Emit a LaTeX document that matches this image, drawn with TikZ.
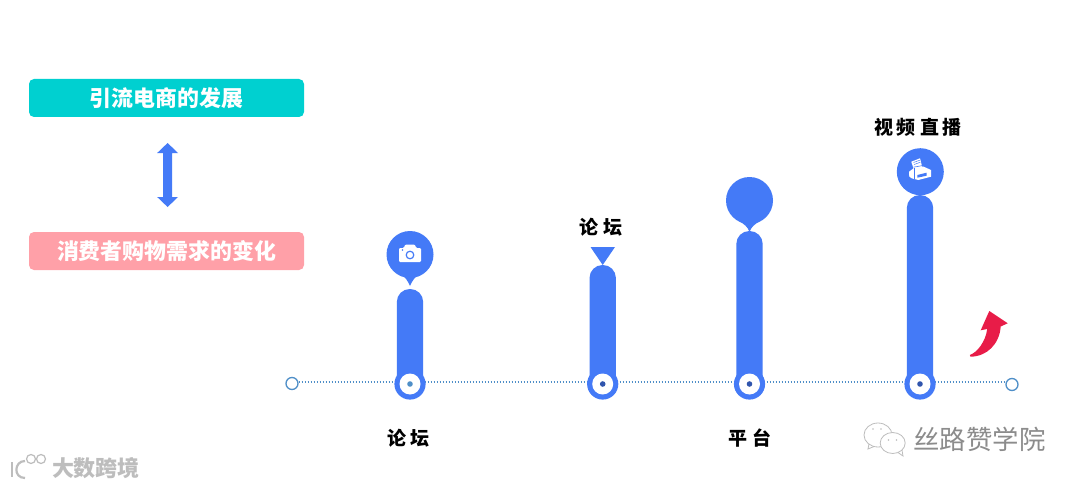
\documentclass[tikz,border=0pt]{standalone}
\usepackage{fontspec}
\usetikzlibrary{calc}
\newfontfamily\cjk{Noto Sans CJK SC}
\definecolor{barblue}{HTML}{447AF7}
\definecolor{linedot}{HTML}{4F8FC8}
\definecolor{teal1}{HTML}{00D0D0}
\definecolor{pink1}{HTML}{FFA0A8}
\definecolor{redarrow}{HTML}{E81C48}
\definecolor{wm}{HTML}{BDBDBD}
\tikzset{
  box/.style={fill=#1,rounded corners=5pt,minimum width=275pt,minimum height=38pt,inner sep=0pt,
    text=white,font=\cjk\bfseries\fontsize{21.9}{26}\selectfont},
  lbl/.style={text=black,inner sep=0pt,font=\cjk\bfseries\fontsize{19}{22}\selectfont},
  endring/.style={circle,draw=linedot,fill=white,line width=1.3pt,minimum size=12pt,inner sep=0pt},
  dotline/.style={draw=linedot,line width=1.2pt,dash pattern=on 1.5pt off 1.5pt},
  wmline/.style={draw=wm,line width=1pt}
}
\newcommand{\stem}[2]{% x, top y
  \fill[barblue,rounded corners=13pt] (#1-13.2,#2) rectangle (#1+13.2,392);
  \fill[barblue] (#1,384) circle (15.6);
  \fill[white] (#1,384) circle (10.5);
}
\begin{document}
\begin{tikzpicture}[x=1pt,y=-1pt]
\useasboundingbox (0,0) rectangle (1080,487);
\fill[white] (0,0) rectangle (1080,487);

% left column
\node[box=teal1] (b1) at (166.5,98) {引流电商的发展};
\node[box=pink1] (b2) at (166.5,251) {消费者购物需求的变化};
\fill[barblue] (167.6,143) -- (178,153) -- (172.2,153) -- (172.2,197) -- (178,197) -- (167.6,207)
  -- (157.2,197) -- (163,197) -- (163,153) -- (157.2,153) -- cycle;

% baseline
\node[endring] (s) at (292,383.5) {};
\node[endring] (e) at (1012,384.5) {};
\draw[dotline] ($(s.east)+(0,-1.5)$) -- ($(e.west)+(0,-2.5)$);

% bars
\stem{410}{289}
\stem{602.7}{265}
\stem{749.5}{231}
\stem{920}{195}
\fill[linedot] (410,384) circle (2.8);
\fill[barblue!70!black] (602.7,384) circle (2.8);
\fill[barblue!70!black] (749.5,384) circle (2.8);
\fill[barblue!70!black] (920,384) circle (2.8);

% pin 1 with camera
\fill[barblue] (410,254.5) circle (23.5);
\fill[barblue] (401,274) .. controls (405,277) and (408,281) .. (410,286)
  .. controls (412,281) and (415,277) .. (419,274) -- cycle;
\fill[white,rounded corners=1.2pt] (399,248) -- (404,248) -- (405,244.5) -- (415,244.5) -- (416,248) -- (421,248) -- (421,262) -- (399,262) -- cycle;
\draw[barblue,line width=1.2pt] (410,255) circle (3.8);
\fill[barblue] (402.5,250) circle (0.8);

% triangle
\fill[barblue] (590.5,247) -- (615,247) -- (602.7,265) -- cycle;

% pin 3
\fill[barblue] (749.5,200.5) circle (23.5);
\fill[barblue] (739,221) .. controls (744,224) and (748,227) .. (749.5,232)
  .. controls (751,227) and (755,224) .. (760,221) -- cycle;

% pin 4 with printer
\fill[barblue] (920.3,171.7) circle (23.5);
\fill[white] (911.3,161.7) -- (920,158.3) -- (922.3,167.3) -- (914,170) -- cycle;
\draw[barblue,line width=0.5pt] (913.5,162.5) -- (919.8,160.2) (914.2,164.5) -- (920.4,162.2);
\draw[barblue,line width=0.6pt] (913.5,167.2) -- (922.3,165.6);
\fill[white] (909,171.7) -- (914,168) -- (923.3,166.5) -- (931,170) -- (931,176.7) -- (918.3,180) -- (911.7,178.3) -- (909.3,176.7) -- cycle;
\fill[barblue] (917.3,175) -- (926.7,172.7) -- (926.7,175.7) -- (917.3,177.7) -- cycle;
\draw[barblue,line width=0.5pt] (914,168) -- (914,179);

% red arrow
\fill[redarrow] (989.3,311) -- (1007.7,323.3) -- (1000.7,326.5)
  .. controls (999.5,344) and (987,356.5) .. (970.5,356.7)
  -- (969.8,355) .. controls (977,352.5) and (985.5,342) .. (987.2,329)
  -- (980.7,330.3) -- cycle;

% labels
\node[lbl] (l1) at (408.5,438) {论\hspace{5pt}坛};
\node[lbl] (l2) at (600.5,227.5) {论\hspace{5pt}坛};
\node[lbl] (l3) at (749.5,438) {平\hspace{5pt}台};
\node[lbl] (l4) at (918,127) {视\hspace{4pt}频\hspace{4pt}直\hspace{4pt}播};

% watermark right
\draw[wmline,line width=0.8pt,fill=white] (878,435) ellipse (14 and 12);
\draw[wmline,line width=0.8pt] (869,444) -- (868,449) -- (874,446.5);
\draw[wmline,line width=0.8pt,fill=white] (892.7,443) ellipse (12.5 and 10.5);
\draw[wmline,line width=0.8pt] (898,452.5) -- (903,456) -- (902,450);
\fill[wm] (873,429) circle (0.8) (881,429) circle (0.8) (888.5,440) circle (0.8) (896.5,440) circle (0.8);
\node[inner sep=0pt,text=black!45,font=\cjk\fontsize{26.4}{30}\selectfont] (w2) at (979.5,439.5) {丝路赞学院};

% watermark left
\draw[wmline,line width=2pt] (11.5,462) -- (11.5,477);
\draw[wmline,line width=2.2pt] (25,461) .. controls (14,461) and (13,478) .. (25,478);
\draw[wmline,line width=1.2pt] (31,459) circle (4.5) (41,459) circle (4.5);
\node[inner sep=0pt,text=wm,font=\cjk\bfseries\fontsize{22}{25}\selectfont] (w1) at (96,468.5) {大数跨境};
\end{tikzpicture}
\end{document}
